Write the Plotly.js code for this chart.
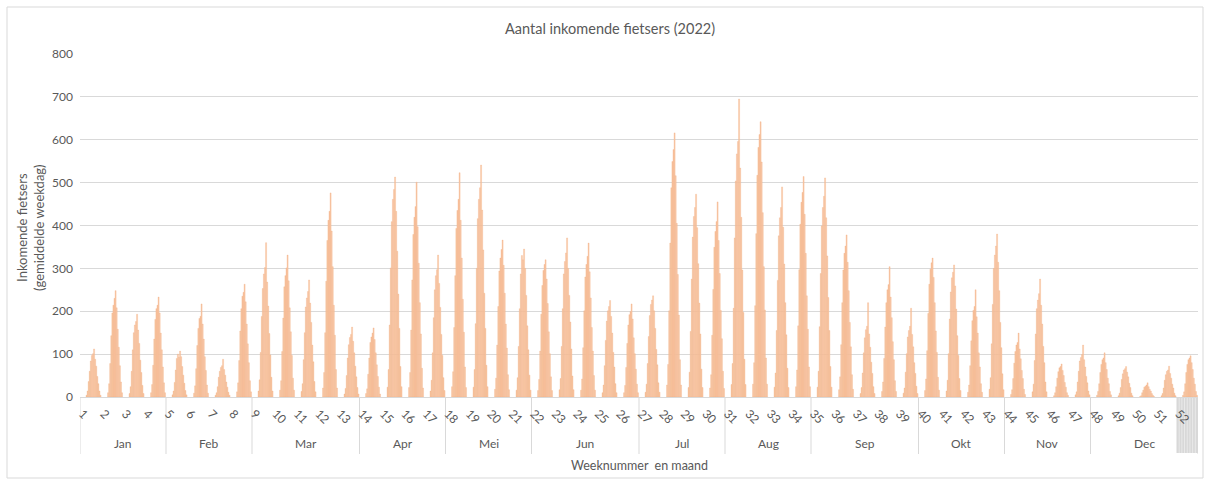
<!DOCTYPE html>
<html>
<head>
<meta charset="utf-8">
<script src="https://cdn.plot.ly/plotly-3.0.1.min.js"></script>
<style>
html,body{margin:0;padding:0;background:#fff;}
#chart{width:1208px;height:482px;}
</style>
</head>
<body>
<div id="chart"></div>
<script>
// Week numbers (tick labels) and months with the number of weeks in each
const weekLabels = ["1","2","3","4","5","6","7","8","9","10","11","12","13","14","15","16","17","18","19","20","21","22","23","24","25","26","27","28","29","30","31","32","33","34","35","36","37","38","39","40","41","42","43","44","45","46","47","48","49","50","51","52"];
const monthNames = ["Jan","Feb","Mar","Apr","Mei","Jun","Jul","Aug","Sep","Okt","Nov","Dec"];
const monthWeekCount = [4,4,5,4,4,5,4,4,5,4,4,5];

// Incoming cyclists (average weekday profile) per week
const w01 = [4,14,36,60,84,97,101,112,88,72,48,31,14,4];
const w02 = [10,31,78,143,196,214,230,248,208,158,116,73,35,10];
const w03 = [8,24,60,110,150,168,176,193,156,125,86,57,27,8];
const w04 = [10,29,74,135,181,206,214,233,196,149,110,70,33,10];
const w05 = [5,14,34,63,90,100,93,107,94,71,51,32,15,5];
const w06 = [9,26,66,120,160,183,188,217,170,135,94,62,28,9];
const w07 = [4,10,24,46,60,69,73,88,64,51,35,23,11,4];
const w08 = [12,33,85,154,206,235,244,263,222,170,124,80,38,12];
const w09 = [14,40,104,188,253,287,302,360,268,212,148,98,46,14];
const w10 = [16,38,106,184,257,283,301,331,271,208,152,97,44,16];
const w11 = [13,31,87,150,210,231,246,273,219,174,121,82,36,12];
const w12 = [21,57,150,270,365,412,433,476,387,304,214,144,64,21];
const w13 = [7,20,50,91,122,139,146,163,130,103,72,47,22,7];
const w14 = [8,19,53,91,127,140,149,161,134,103,75,48,23,7];
const w15 = [23,64,168,301,409,461,484,513,433,340,240,160,71,24];
const w16 = [22,57,156,273,379,419,444,501,397,312,220,147,67,21];
const w17 = [14,39,103,185,250,283,297,331,265,209,146,97,45,15];
const w18 = [24,59,162,283,393,435,461,523,412,324,228,151,70,22];
const w19 = [23,64,171,300,416,461,488,541,436,343,242,160,74,24];
const w20 = [18,44,121,211,294,324,344,366,307,242,170,114,52,17];
const w21 = [16,45,118,206,287,330,320,345,300,237,166,110,51,16];
const w22 = [15,41,107,193,260,295,309,320,275,218,152,101,47,15];
const w23 = [17,43,118,206,287,316,336,371,300,237,175,112,49,17];
const w24 = [16,42,115,201,280,309,328,359,292,231,162,107,50,16];
const w25 = [10,28,73,132,177,201,211,225,188,149,104,70,31,10];
const w26 = [10,27,69,125,168,192,199,217,182,138,101,65,30,10];
const w27 = [11,30,78,141,190,216,226,236,201,160,111,75,33,11];
const w28 = [28,76,201,359,488,549,577,616,516,405,286,191,87,28];
const w29 = [22,58,153,275,373,421,442,473,395,311,219,147,65,22];
const w30 = [21,52,144,251,349,386,409,455,365,288,202,136,60,20];
const w31 = [29,78,207,371,504,567,596,695,534,419,296,197,88,29];
const w32 = [30,80,213,381,517,582,612,642,548,430,304,203,91,30];
const w33 = [23,56,155,272,376,418,442,490,396,310,220,145,67,22];
const w34 = [24,63,166,297,403,454,477,514,426,335,236,158,70,24];
const w35 = [23,60,164,288,399,442,468,511,418,329,232,155,71,23];
const w36 = [17,47,122,220,296,335,352,378,314,248,174,117,52,18];
const w37 = [8,22,56,103,138,157,165,220,147,116,81,55,24,8];
const w38 = [13,35,90,163,220,250,262,304,233,185,129,87,38,13];
const w39 = [9,21,58,101,140,155,165,207,146,117,80,55,25,8];
const w40 = [15,42,108,195,263,298,313,324,279,220,154,104,46,16];
const w41 = [14,39,101,182,245,278,291,308,259,205,143,97,43,15];
const w42 = [11,28,73,131,178,202,211,250,187,149,103,70,31,11];
const w43 = [18,45,124,216,300,331,352,380,314,248,174,115,54,17];
const w44 = [6,17,43,79,106,121,127,149,112,89,62,43,18,6];
const w45 = [12,30,85,147,206,226,241,275,214,170,118,80,35,12];
const w46 = [3,10,24,44,59,68,71,77,62,50,34,23,10,4];
const w47 = [5,12,35,60,84,92,99,121,87,70,48,33,14,5];
const w48 = [4,13,31,57,76,87,91,103,80,64,44,31,13,5];
const w49 = [3,9,22,41,54,63,66,71,58,47,32,22,9,3];
const w50 = [1,3,10,16,23,25,28,33,24,18,14,8,4,1];
const w51 = [3,8,21,39,52,60,63,72,55,44,30,21,9,3];
const w52 = [4,12,31,57,76,87,91,96,80,64,44,30,13,4];

const weekSeries = [w01,w02,w03,w04,w05,w06,w07,w08,w09,w10,w11,w12,w13,w14,w15,w16,w17,w18,w19,w20,w21,w22,w23,w24,w25,w26,w27,w28,w29,w30,w31,w32,w33,w34,w35,w36,w37,w38,w39,w40,w41,w42,w43,w44,w45,w46,w47,w48,w49,w50,w51,w52];

// ---- build trace (positions inside each week computed from slot index) ----
const slotW = 0.05, slotStart = 0.305;
const xs = [], ys = [];
weekSeries.forEach((vals, k) => {
  vals.forEach((v, i) => { xs.push(k + slotStart + i * slotW); ys.push(v); });
});

const grey = '#595959';
const fontFam = 'Lato, "Open Sans", sans-serif';

// plot geometry in pixels (for paper-relative decorations)
const plotTop = 54, plotBottom = 397, plotLeft = 80, plotRight = 1198;
const plotH = plotBottom - plotTop, plotW = plotRight - plotLeft;
const py = p => (plotBottom - p) / plotH;
const px = p => (p - plotLeft) / plotW;

const shapes = [];
const annotations = [];
// shaded last week block below axis, with faint vertical striping
shapes.push({type:'rect', xref:'x', yref:'paper', x0:51, x1:52, y0:0, y1:py(453), fillcolor:'#D8D8D8', line:{width:0}, layer:'below'});
for (let s = 1; s < 8; s++) {
  shapes.push({type:'line', xref:'x', yref:'paper', x0:51 + s/8, x1:51 + s/8, y0:0, y1:py(453), line:{color:'#EDEDED', width:0.8}, layer:'below'});
}
// month separators and labels
let acc = 0;
shapes.push({type:'line', xref:'x', yref:'paper', x0:0, x1:0, y0:0, y1:py(454), line:{color:'#D9D9D9', width:1}, layer:'below'});
monthNames.forEach((m, j) => {
  const start = acc, end = acc + monthWeekCount[j];
  shapes.push({type:'line', xref:'x', yref:'paper', x0:end, x1:end, y0:0, y1:py(454), line:{color:'#D9D9D9', width:1}, layer:'below'});
  annotations.push({xref:'x', yref:'paper', x:(start+end)/2, y:py(443), text:m, showarrow:false, xanchor:'center', yanchor:'middle', font:{family:fontFam, size:12, color:grey}});
  acc = end;
});
// chart-area border
shapes.push({type:'rect', xref:'paper', yref:'paper', x0:px(7), x1:px(1203), y0:py(478), y1:py(7), line:{color:'#D9D9D9', width:1}, fillcolor:'rgba(0,0,0,0)', layer:'below'});

annotations.push({xref:'paper', yref:'paper', x:px(610), y:py(28), text:'Aantal inkomende fietsers (2022)', showarrow:false, xanchor:'center', yanchor:'middle', font:{family:fontFam, size:14.5, color:grey}});
annotations.push({xref:'paper', yref:'paper', x:0.5, y:py(466), text:'Weeknummer  en maand', showarrow:false, xanchor:'center', yanchor:'middle', font:{family:fontFam, size:12.5, color:grey}});
annotations.push({xref:'paper', yref:'paper', x:0, xshift:-50, y:py(228), text:'Inkomende fietsers<br>(gemiddelde weekdag)', textangle:-90, showarrow:false, xanchor:'center', yanchor:'middle', font:{family:fontFam, size:13, color:grey}});

const trace = {
  type:'bar', x:xs, y:ys, width:slotW,
  marker:{color:'#F8C9A8', line:{color:'#F3AA7A', width:0.3}},
  hoverinfo:'skip'
};

const layout = {
  width:1208, height:482,
  margin:{l:plotLeft, r:1208-plotRight, t:plotTop, b:482-plotBottom},
  paper_bgcolor:'#fff', plot_bgcolor:'#fff',
  showlegend:false,
  font:{family:fontFam, color:grey, size:12},
  xaxis:{
    range:[0,52], showgrid:false, zeroline:false,
    showline:true, linecolor:'#D9D9D9', linewidth:1,
    tickmode:'array', tickvals:weekLabels.map((_,k)=>k+0.1), ticktext:weekLabels,
    tickangle:45, ticks:'', ticklabelstandoff:4, tickfont:{family:fontFam, size:12, color:grey}
  },
  yaxis:{
    range:[0,800], dtick:100, tick0:0, showgrid:true, gridcolor:'#D9D9D9', gridwidth:1,
    zeroline:false, showline:false, ticks:'', ticklabelstandoff:6,
    tickfont:{family:fontFam, size:12, color:grey}
  },
  shapes:shapes, annotations:annotations
};

Plotly.newPlot('chart', [trace], layout, {staticPlot:true, displayModeBar:false});
</script>
</body>
</html>
